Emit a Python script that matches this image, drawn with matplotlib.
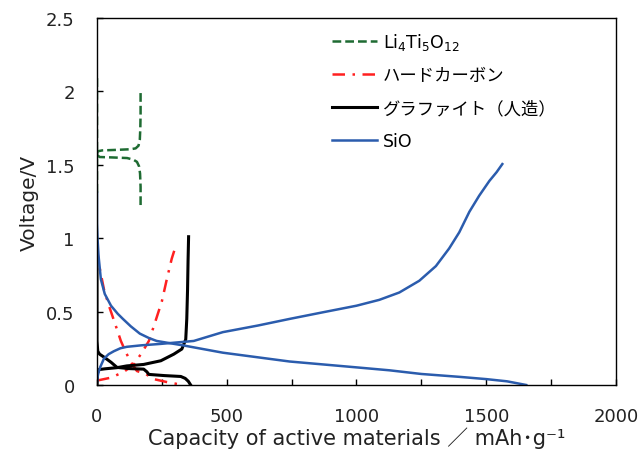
import numpy as np
import matplotlib
matplotlib.use("Agg")
import matplotlib.pyplot as plt

plt.rcParams.update(
    {
        "font.family": ["DejaVu Sans", "Noto Sans CJK JP"],
        "axes.linewidth": 1.0,
        "axes.edgecolor": "black",
    }
)

# Li4Ti5O12 (green dashed)
lto_dis_x = [0, 0, 2, 10, 60, 116, 140, 154, 162, 166, 168, 168]
lto_dis_v = [2.09, 1.60, 1.565, 1.553, 1.550, 1.546, 1.535, 1.52, 1.49, 1.44, 1.35, 1.21]
lto_chg_x = [0, 0, 3, 20, 80, 130, 149, 160, 165, 167, 168, 168]
lto_chg_v = [1.31, 1.57, 1.592, 1.598, 1.602, 1.606, 1.612, 1.63, 1.67, 1.75, 1.85, 1.99]

# hard carbon (red dash-dot)
hc_dis_x = [0, 10, 27, 46, 73, 92, 112, 131, 154, 188, 219, 269, 315]
hc_dis_v = [0.93, 0.80, 0.65, 0.54, 0.40, 0.30, 0.22, 0.155, 0.095, 0.075, 0.04, 0.02, 0.005]
hc_chg_x = [0, 54, 104, 142, 173, 200, 219, 250, 269, 288, 304]
hc_chg_v = [0.03, 0.05, 0.09, 0.14, 0.22, 0.30, 0.40, 0.57, 0.72, 0.86, 0.95]

# graphite (black)
gr_dis_x = [0, 0, 3, 10, 27, 54, 77, 120, 180, 192, 200, 260, 323, 340, 352, 361]
gr_dis_v = [0.91, 0.30, 0.23, 0.21, 0.19, 0.155, 0.12, 0.112, 0.108, 0.09, 0.072, 0.064, 0.058, 0.045, 0.025, 0.0]
gr_chg_x = [0, 2, 8, 30, 77, 115, 180, 246, 296, 327, 342, 346, 349, 351, 353]
gr_chg_v = [0.0, 0.08, 0.105, 0.11, 0.118, 0.13, 0.14, 0.165, 0.21, 0.245, 0.31, 0.45, 0.65, 0.85, 1.01]

# SiO (blue)
sio_dis_x = [0, 0, 2, 6, 15, 30, 54, 80, 100, 130, 165, 200, 230, 280, 331, 485, 742,
             1000, 1127, 1250, 1400, 1500, 1580, 1654]
sio_dis_v = [1.31, 1.10, 1.00, 0.88, 0.72, 0.62, 0.54, 0.485, 0.45, 0.40, 0.35, 0.32, 0.30, 0.285, 0.27, 0.22, 0.16,
             0.12, 0.10, 0.075, 0.055, 0.04, 0.025, 0.0]
sio_chg_x = [0, 2, 5, 12, 27, 45, 65, 90, 115, 170, 246, 373, 485, 620, 742, 870, 1000, 1088, 1165, 1242, 1306,
             1357, 1396, 1435, 1473, 1512, 1540, 1562]
sio_chg_v = [0.02, 0.05, 0.08, 0.12, 0.18, 0.21, 0.23, 0.25, 0.26, 0.27, 0.28, 0.30, 0.36, 0.405, 0.45, 0.495, 0.54,
             0.58, 0.63, 0.71, 0.81, 0.93, 1.04, 1.18, 1.29, 1.39, 1.45, 1.505]

xticks = [0, 500, 1000, 1500, 2000]
xminor = [250, 750, 1250, 1750]
yticks = [0, 0.5, 1, 1.5, 2, 2.5]
ytick_labels = ["0", "0.5", "1", "1.5", "2", "2.5"]

fig = plt.figure(figsize=(6.41, 4.60), dpi=100)
ax = fig.add_axes([0.1513, 0.1609, 0.8097, 0.7978])

green = "#1e6b32"
red = "#ff2020"
blue = "#2b5cad"

ax.plot(lto_dis_x, lto_dis_v, color=green, lw=1.8, ls=(0, (3.5, 1.6)), label="Li$_4$Ti$_5$O$_{12}$")
ax.plot(lto_chg_x, lto_chg_v, color=green, lw=1.8, ls=(0, (3.5, 1.6)))
ax.plot(hc_dis_x, hc_dis_v, color=red, lw=1.8, ls=(0, (5, 3, 1, 3)), label="ハードカーボン")
ax.plot(hc_chg_x, hc_chg_v, color=red, lw=1.8, ls=(0, (5, 3, 1, 3)))
ax.plot(gr_dis_x, gr_dis_v, color="black", lw=2.2, label="グラファイト（人造）")
ax.plot(gr_chg_x, gr_chg_v, color="black", lw=2.2)
ax.plot(sio_dis_x, sio_dis_v, color=blue, lw=1.8, label="SiO")
ax.plot(sio_chg_x, sio_chg_v, color=blue, lw=1.8)

ax.set_xlim(0, 2000)
ax.set_ylim(0, 2.5)
ax.set_xticks(xticks)
ax.set_xticks(xminor, minor=True)
ax.set_yticks(yticks)
ax.set_yticklabels(ytick_labels)
ax.tick_params(axis="both", which="both", direction="in", top=False, right=False,
               length=4, width=1.0, color="black", labelcolor="#222222", labelsize=13)
ax.tick_params(axis="x", which="major", pad=16)
ax.tick_params(axis="y", which="major", pad=16)

ax.set_xlabel("Capacity of active materials ／ mAh･g⁻¹", fontsize=15, color="#222222", labelpad=1)
ax.set_ylabel("Voltage/V", fontsize=14.5, color="#222222", labelpad=5)

ax.legend(
    loc="upper left",
    bbox_to_anchor=(0.494, 0.965),
    bbox_transform=fig.transFigure,
    frameon=False,
    fontsize=12.5,
    handlelength=2.6,
    handletextpad=0.3,
    labelspacing=0.85,
)

fig.savefig("out.png", dpi=100)
